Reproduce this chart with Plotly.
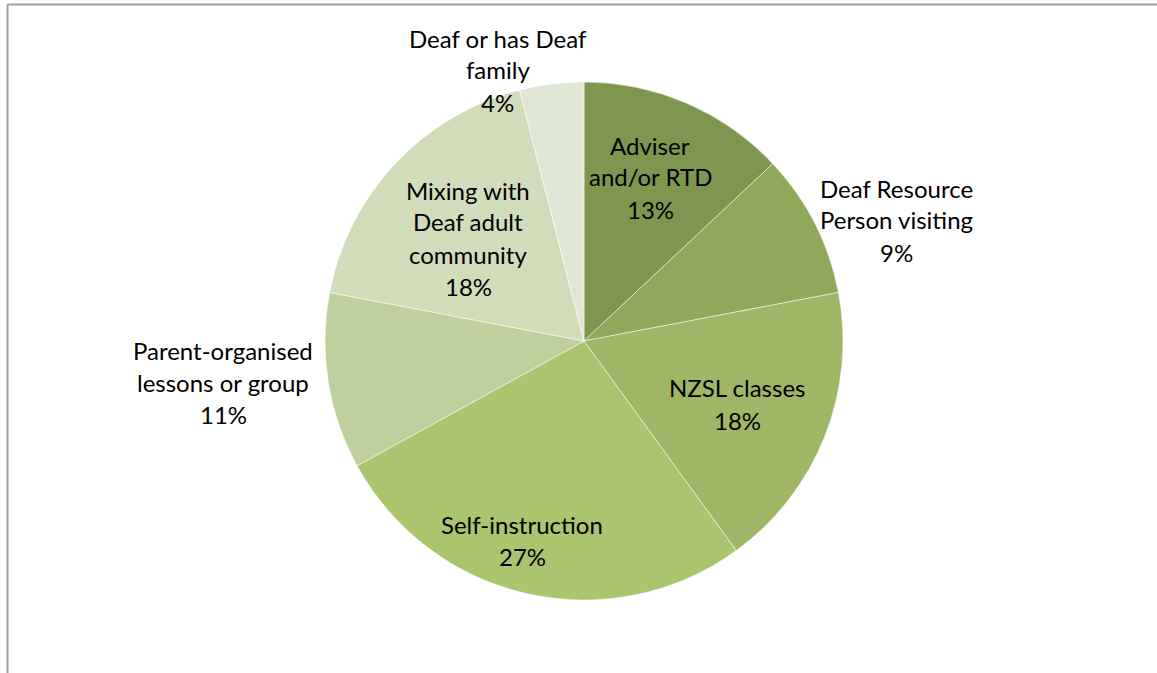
import plotly.graph_objects as go

W, H = 1157, 673

# Sources of NZSL learning (percent of respondents)
categories = [
    "Adviser<br>and/or RTD",
    "Deaf Resource<br>Person visiting",
    "NZSL classes",
    "Self-instruction",
    "Parent-organised<br>lessons or group",
    "Mixing with<br>Deaf adult<br>community",
    "Deaf or has Deaf<br>family",
]
percent = [13, 9, 18, 27, 11, 18, 4]
slice_colors = ["#7F9650", "#8FA85A", "#9EB666", "#ABC46E", "#C0CF9E", "#D1DDBA", "#DFE6D3"]

# label block centres, in pixels from the top-left of the page
label_centres = [(650, 177), (896, 220), (737, 404), (522, 540), (223, 382), (468, 238), (498, 70)]

cx, cy, r = 584, 341, 259

fig = go.Figure(go.Pie(
    labels=[c.replace("<br>", " ") for c in categories],
    values=percent,
    sort=False,
    direction="clockwise",
    rotation=0,
    textinfo="none",
    hoverinfo="label+percent",
    marker=dict(colors=slice_colors, line=dict(color="rgba(255,255,255,0.5)", width=1)),
    domain=dict(x=[(cx - r) / W, (cx + r) / W], y=[1 - (cy + r) / H, 1 - (cy - r) / H]),
    showlegend=False,
))

line_gap = 32
annotations = []
for name, val, (lx, ly) in zip(categories, percent, label_centres):
    lines = name.split("<br>") + [f"{val}%"]
    n = len(lines)
    for j, t in enumerate(lines):
        y = ly + (j - (n - 1) / 2) * line_gap
        annotations.append(dict(
            x=lx / W, y=1 - y / H, xref="paper", yref="paper",
            text=t, showarrow=False, xanchor="center", yanchor="middle",
            font=dict(family="Lato, 'Open Sans', sans-serif", size=24, color="#000000"),
        ))

frame = "#A0A0A0"
shapes = [
    dict(type="line", xref="paper", yref="paper", x0=7.5 / W, x1=1, y0=1 - 4.5 / H, y1=1 - 4.5 / H,
         line=dict(color=frame, width=2)),
    dict(type="line", xref="paper", yref="paper", x0=7.5 / W, x1=7.5 / W, y0=0, y1=1 - 4.5 / H,
         line=dict(color=frame, width=2)),
]

fig.update_layout(
    width=W, height=H,
    margin=dict(l=0, r=0, t=0, b=0),
    paper_bgcolor="white", plot_bgcolor="white",
    annotations=annotations,
    shapes=shapes,
)

fig.write_html("out.html")
